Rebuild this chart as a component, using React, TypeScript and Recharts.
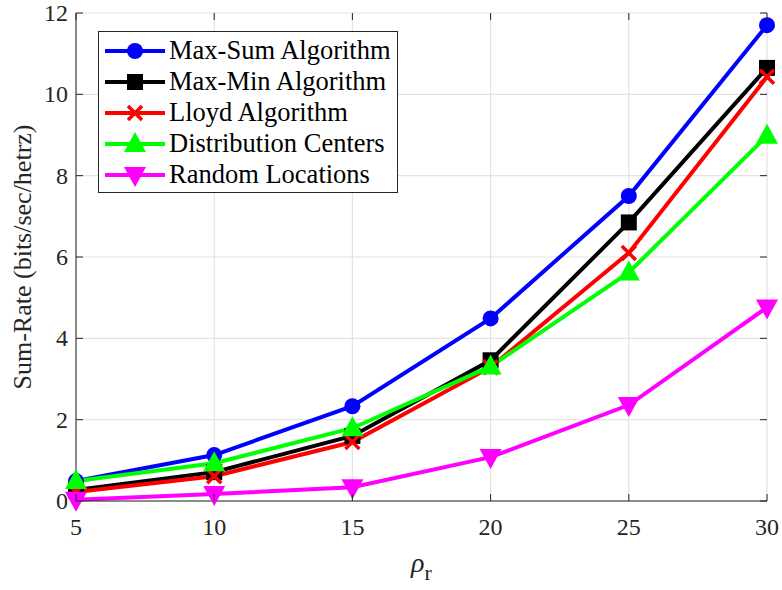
import React from 'react';
import { LineChart, Line, XAxis, YAxis, CartesianGrid } from 'recharts';

const rhoValues = [5, 10, 15, 20, 25, 30];
const maxSum = [0.49, 1.13, 2.33, 4.49, 7.5, 11.7];
const maxMin = [0.27, 0.71, 1.6, 3.46, 6.85, 10.65];
const lloyd = [0.22, 0.61, 1.45, 3.29, 6.1, 10.43];
const distCenters = [0.49, 0.93, 1.79, 3.31, 5.62, 8.98];
const randomLoc = [0.03, 0.17, 0.34, 1.08, 2.36, 4.76];
const xTicks = [5, 10, 15, 20, 25, 30];
const yTicks = [0, 2, 4, 6, 8, 10, 12];

const data = rhoValues.map((rho, i) => ({
  rho,
  maxSum: maxSum[i],
  maxMin: maxMin[i],
  lloyd: lloyd[i],
  dist: distCenters[i],
  random: randomLoc[i],
}));

const W = 782;
const H = 590;
const LEFT = 76;
const RIGHT = 767;
const TOP = 13;
const BOTTOM = 501;
const AXIS = '#262626';
const FONT = '"Liberation Serif", serif';

type MarkerKind = 'circle' | 'square' | 'cross' | 'up' | 'down';

function Marker({ kind, cx, cy, color }: { kind: MarkerKind; cx: number; cy: number; color: string }) {
  switch (kind) {
    case 'circle':
      return <circle cx={cx} cy={cy} r={8} fill={color} />;
    case 'square':
      return <rect x={cx - 8} y={cy - 8} width={16} height={16} fill={color} />;
    case 'cross':
      return (
        <g stroke={color} strokeWidth={3.5}>
          <line x1={cx - 7} y1={cy - 7} x2={cx + 7} y2={cy + 7} />
          <line x1={cx - 7} y1={cy + 7} x2={cx + 7} y2={cy - 7} />
        </g>
      );
    case 'up':
      return <polygon points={`${cx},${cy - 12} ${cx - 11},${cy + 8} ${cx + 11},${cy + 8}`} fill={color} />;
    default:
      return <polygon points={`${cx},${cy + 12} ${cx - 11},${cy - 8} ${cx + 11},${cy - 8}`} fill={color} />;
  }
}

const seriesList: { key: string; name: string; color: string; marker: MarkerKind }[] = [
  { key: 'maxSum', name: 'Max-Sum Algorithm', color: '#0000ff', marker: 'circle' },
  { key: 'maxMin', name: 'Max-Min Algorithm', color: '#000000', marker: 'square' },
  { key: 'lloyd', name: 'Lloyd Algorithm', color: '#ff0000', marker: 'cross' },
  { key: 'dist', name: 'Distribution Centers', color: '#00ff00', marker: 'up' },
  { key: 'random', name: 'Random Locations', color: '#ff00ff', marker: 'down' },
];

const XTick = (props: any) => {
  const { x, payload } = props;
  return (
    <g>
      <line x1={x} y1={BOTTOM} x2={x} y2={BOTTOM - 7} stroke={AXIS} />
      <line x1={x} y1={TOP} x2={x} y2={TOP + 7} stroke={AXIS} />
      <text x={x} y={BOTTOM + 34} textAnchor="middle" style={{ fontFamily: FONT, fontSize: 24 }} fill="#262626">
        {payload.value}
      </text>
    </g>
  );
};

const YTick = (props: any) => {
  const { y, payload } = props;
  return (
    <g>
      <line x1={LEFT} y1={y} x2={LEFT + 7} y2={y} stroke={AXIS} />
      <line x1={RIGHT} y1={y} x2={RIGHT - 7} y2={y} stroke={AXIS} />
      <text x={LEFT - 8} y={y + 8} textAnchor="end" style={{ fontFamily: FONT, fontSize: 24 }} fill="#262626">
        {payload.value}
      </text>
    </g>
  );
};

const LegendBox = () => (
  <div
    style={{
      position: 'absolute',
      left: 98,
      top: 31,
      background: '#fff',
      border: '1.5px solid #262626',
      width: 300,
      height: 162,
      boxSizing: 'border-box',
      paddingTop: 3,
    }}
  >
    {seriesList.map((s) => (
      <div key={s.key} style={{ display: 'flex', alignItems: 'center', height: 31 }}>
        <svg width={70} height={31} style={{ flex: 'none' }}>
          <line x1={6} y1={16} x2={66} y2={16} stroke={s.color} strokeWidth={4} />
          <Marker kind={s.marker} cx={36} cy={16} color={s.color} />
        </svg>
        <span style={{ fontFamily: FONT, fontSize: 26.5, color: '#000', whiteSpace: 'nowrap', lineHeight: '31px' }}>
          {s.name}
        </span>
      </div>
    ))}
  </div>
);

export default function App() {
  return (
    <div style={{ position: 'absolute', left: 0, top: 0, width: W, height: H, background: '#fff' }}>
      <LineChart width={W} height={H} data={data} margin={{ top: TOP, right: W - RIGHT, left: 0, bottom: 0 }}>
        <CartesianGrid stroke="#e3e3e3" strokeWidth={1.2} />
        <XAxis
          dataKey="rho"
          type="number"
          domain={[5, 30]}
          ticks={xTicks}
          height={H - BOTTOM}
          tickLine={false}
          tick={<XTick />}
          axisLine={{ stroke: AXIS }}
          label={{
            value: 'ρ',
            content: () => (
              <text x={(LEFT + RIGHT) / 2} y={572} textAnchor="middle" style={{ fontFamily: FONT }} fill="#262626">
                <tspan fontSize={28} fontStyle="italic">ρ</tspan>
                <tspan fontSize={22} dy={8}>r</tspan>
              </text>
            ),
          }}
        />
        <XAxis xAxisId="top" orientation="top" dataKey="rho" type="number" domain={[5, 30]} height={0} tick={false} tickLine={false} axisLine={{ stroke: AXIS }} />
        <YAxis
          type="number"
          domain={[0, 12]}
          ticks={yTicks}
          width={LEFT}
          tickLine={false}
          tick={<YTick />}
          axisLine={{ stroke: AXIS }}
          label={{
            value: 'Sum-Rate (bits/sec/hetrz)',
            content: () => (
              <text
                x={31}
                y={(TOP + BOTTOM) / 2}
                transform={`rotate(-90, 31, ${(TOP + BOTTOM) / 2})`}
                textAnchor="middle"
                style={{ fontFamily: FONT, fontSize: 26 }}
                fill="#262626"
              >
                Sum-Rate (bits/sec/hetrz)
              </text>
            ),
          }}
        />
        <YAxis yAxisId="right" orientation="right" domain={[0, 12]} width={0} tick={false} tickLine={false} axisLine={{ stroke: AXIS }} />
        {seriesList.map((s) => (
          <Line
            key={s.key}
            dataKey={s.key}
            name={s.name}
            stroke={s.color}
            strokeWidth={4}
            isAnimationActive={false}
            dot={(p: any) => <Marker key={`${s.key}-${p.index}`} kind={s.marker} cx={p.cx} cy={p.cy} color={s.color} />}
            activeDot={false}
          />
        ))}
      </LineChart>
      <LegendBox />
    </div>
  );
}
